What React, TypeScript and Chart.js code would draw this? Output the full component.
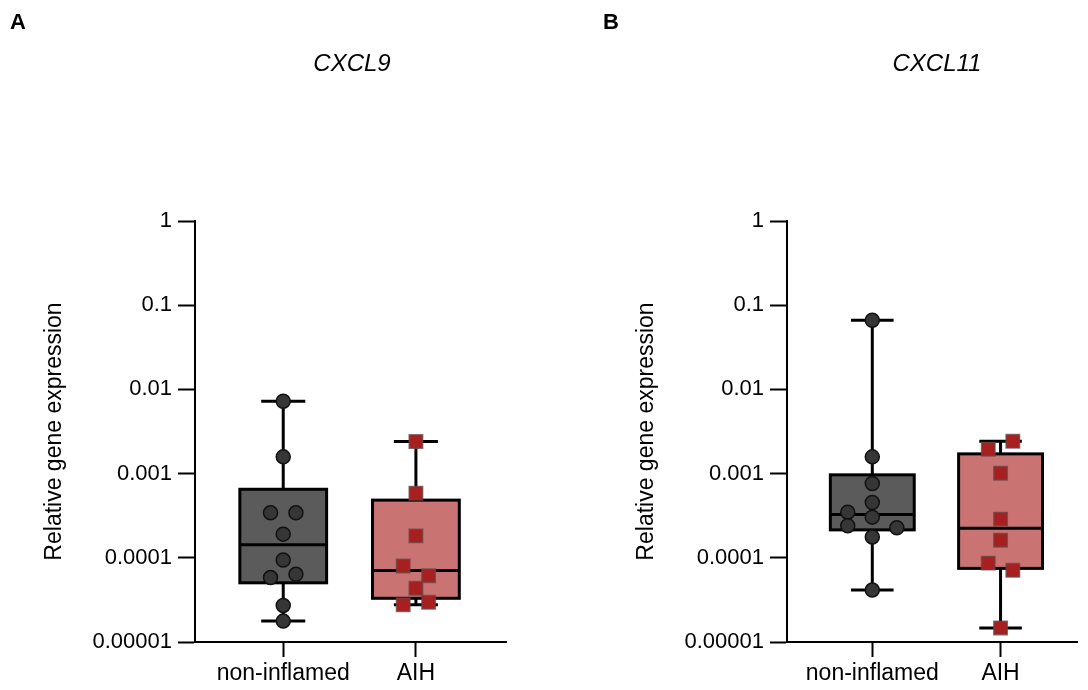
import React, { useEffect, useRef } from 'react';
import { Chart, registerables } from 'chart.js';

Chart.register(...registerables);

// ---- data ----
const groups = ['non-inflamed', 'AIH'];
const yTickValues = [0.00001, 0.0001, 0.001, 0.01, 0.1, 1];
const yTickLabels = ['0.00001', '0.0001', '0.001', '0.01', '0.1', '1'];

const cxcl9NonInflamed = [0.00723, 0.00158, 0.000342, 0.000342, 0.000191, 0.000094, 0.0000582, 0.0000636, 0.0000272, 0.0000177];
const cxcl9AIH = [0.0024, 0.000585, 0.000182, 0.0000798, 0.0000613, 0.0000434, 0.0000296, 0.0000277];
const cxcl11NonInflamed = [0.0661, 0.00158, 0.000762, 0.000454, 0.000348, 0.000304, 0.00024, 0.000227, 0.000177, 0.0000414];
const cxcl11AIH = [0.00242, 0.00195, 0.00101, 0.000288, 0.000162, 0.0000865, 0.000071, 0.0000147];

// horizontal swarm slot of each point (in half-marker steps, 0 = centre)
const cxcl9NonInflamedSlots = [0, 0, -1, 1, 0, 0, -1, 1, 0, 0];
const cxcl9AIHSlots = [0, 0, 0, -1, 1, 0, 1, -1];
const cxcl11NonInflamedSlots = [0, 0, 0, 0, -2, 0, -2, 2, 0, 0];
const cxcl11AIHSlots = [1, -1, 0, 0, 0, -1, 1, 0];

// ---- styling ----
const FONT = "'Liberation Sans', Arial, Helvetica, sans-serif";
const SLOT = 0.0957;
const BOX_HALF = 0.327;
const CAP_HALF = 0.166;
const X_MIN = -0.665;

type Group = {
  values: number[];
  slots: number[];
  boxFill: string;
  pointFill: string;
  pointBorder: string;
  pointStyle: 'circle' | 'rect';
  radius: number;
};

function quantile(sorted: number[], p: number) {
  const n = sorted.length;
  const pos = (n + 1) * p;
  const lo = Math.floor(pos);
  const frac = pos - lo;
  if (lo < 1) return sorted[0];
  if (lo >= n) return sorted[n - 1];
  return sorted[lo - 1] + frac * (sorted[lo] - sorted[lo - 1]);
}

function boxStats(values: number[]) {
  const s = [...values].sort((a, b) => a - b);
  return {
    min: s[0],
    q1: quantile(s, 0.25),
    median: quantile(s, 0.5),
    q3: quantile(s, 0.75),
    max: s[s.length - 1],
  };
}

function makeBoxPlugin(list: Group[]) {
  return {
    id: 'boxWhisker',
    beforeDatasetsDraw(chart: any) {
      const { ctx, scales } = chart;
      const x = scales.x;
      const y = scales.y;
      ctx.save();
      list.forEach((g, i) => {
        const st = boxStats(g.values);
        const cx = x.getPixelForValue(i);
        const bl = x.getPixelForValue(i - BOX_HALF);
        const br = x.getPixelForValue(i + BOX_HALF);
        const cl = x.getPixelForValue(i - CAP_HALF);
        const cr = x.getPixelForValue(i + CAP_HALF);
        const yMin = y.getPixelForValue(st.min);
        const yMax = y.getPixelForValue(st.max);
        const yQ1 = y.getPixelForValue(st.q1);
        const yQ3 = y.getPixelForValue(st.q3);
        const yMed = y.getPixelForValue(st.median);
        ctx.strokeStyle = '#000';
        ctx.lineWidth = 3;
        // whiskers and caps
        ctx.beginPath();
        ctx.moveTo(cx, yQ3);
        ctx.lineTo(cx, yMax);
        ctx.moveTo(cl, yMax);
        ctx.lineTo(cr, yMax);
        ctx.moveTo(cx, yQ1);
        ctx.lineTo(cx, yMin);
        ctx.moveTo(cl, yMin);
        ctx.lineTo(cr, yMin);
        ctx.stroke();
        // box
        ctx.fillStyle = g.boxFill;
        ctx.fillRect(bl, yQ3, br - bl, yQ1 - yQ3);
        ctx.strokeRect(bl, yQ3, br - bl, yQ1 - yQ3);
        // median
        ctx.beginPath();
        ctx.moveTo(bl, yMed);
        ctx.lineTo(br, yMed);
        ctx.stroke();
      });
      ctx.restore();
    },
  };
}

function Panel({ list, xMax, padRight, width }: { list: Group[]; xMax: number; padRight: number; width: number }) {
  const ref = useRef<HTMLCanvasElement>(null);
  useEffect(() => {
    if (!ref.current) return;
    const chart = new Chart(ref.current, {
      type: 'scatter',
      data: {
        datasets: list.map((g, i) => ({
          data: g.values.map((v, k) => ({ x: i + g.slots[k] * SLOT, y: v })),
          pointStyle: g.pointStyle,
          pointRadius: g.radius,
          pointHoverRadius: g.radius,
          backgroundColor: g.pointFill,
          borderColor: g.pointBorder,
          borderWidth: 1.5,
        })),
      },
      options: {
        animation: false,
        responsive: false,
        maintainAspectRatio: false,
        layout: { padding: { left: 41, top: 221, right: padRight, bottom: 0 } },
        plugins: { legend: { display: false }, tooltip: { enabled: false } },
        scales: {
          x: {
            type: 'linear',
            min: X_MIN,
            max: xMax,
            afterBuildTicks: (s: any) => {
              s.ticks = groups.map((_, i) => ({ value: i }));
            },
            afterFit: (s: any) => {
              s.height = 48;
            },
            ticks: {
              callback: (v: any) => groups[Math.round(Number(v))],
              font: { family: FONT, size: 23 },
              color: '#000',
              padding: 3,
              autoSkip: false,
              maxRotation: 0,
            },
            grid: { drawOnChartArea: false, drawTicks: true, tickLength: 15, tickWidth: 2, tickColor: '#000' },
            border: { display: true, color: '#000', width: 2 },
          },
          y: {
            type: 'logarithmic',
            min: yTickValues[0],
            max: yTickValues[yTickValues.length - 1],
            afterBuildTicks: (s: any) => {
              s.ticks = yTickValues.map((v) => ({ value: v }));
            },
            afterFit: (s: any) => {
              s.width = 154;
            },
            ticks: {
              callback: (_v: any, idx: number) => yTickLabels[idx],
              font: { family: FONT, size: 22 },
              color: '#000',
              padding: 6,
              autoSkip: false,
            },
            grid: { drawOnChartArea: false, drawTicks: true, tickLength: 17, tickWidth: 2, tickColor: '#000' },
            border: { display: true, color: '#000', width: 2 },
            title: {
              display: true,
              text: 'Relative gene expression',
              font: { family: FONT, size: 23 },
              color: '#000',
              padding: 0,
            },
          },
        },
      },
      plugins: [makeBoxPlugin(list)],
    } as any);
    return () => chart.destroy();
  }, []);
  return <canvas ref={ref} width={width} height={690} style={{ width, height: 690, display: 'block' }} />;
}

const greyStyle = {
  boxFill: '#5b5b5b',
  pointFill: '#363636',
  pointBorder: '#111111',
  pointStyle: 'circle' as const,
  radius: 7,
};
const redStyle = {
  boxFill: '#ca7373',
  pointFill: '#a81f1f',
  pointBorder: 'rgba(105,70,70,0.75)',
  pointStyle: 'rect' as const,
  radius: 9.5,
};

const cxcl9Groups: Group[] = [
  { values: cxcl9NonInflamed, slots: cxcl9NonInflamedSlots, ...greyStyle },
  { values: cxcl9AIH, slots: cxcl9AIHSlots, ...redStyle },
];
const cxcl11Groups: Group[] = [
  { values: cxcl11NonInflamed, slots: cxcl11NonInflamedSlots, ...greyStyle },
  { values: cxcl11AIH, slots: cxcl11AIHSlots, ...redStyle },
];

const letterStyle: React.CSSProperties = {
  position: 'absolute',
  top: 11,
  fontFamily: FONT,
  fontWeight: 'bold',
  fontSize: 22,
  lineHeight: '22px',
  color: '#000',
};
const geneStyle: React.CSSProperties = {
  position: 'absolute',
  top: 51,
  width: 200,
  textAlign: 'center',
  fontFamily: FONT,
  fontStyle: 'italic',
  fontSize: 24,
  lineHeight: '24px',
  color: '#000',
};

export default function App() {
  return (
    <div style={{ position: 'absolute', left: 0, top: 0, width: 1088, height: 690, background: '#fff', overflow: 'hidden' }}>
      <div style={{ position: 'absolute', left: 0, top: 0 }}>
        <Panel list={cxcl9Groups} xMax={1.679} padRight={38} width={544} />
      </div>
      <div style={{ position: 'absolute', left: 592, top: 0 }}>
        <Panel list={cxcl11Groups} xMax={1.596} padRight={1} width={496} />
      </div>
      <div style={{ ...letterStyle, left: 10 }}>A</div>
      <div style={{ ...letterStyle, left: 603 }}>B</div>
      <div style={{ ...geneStyle, left: 252 }}>CXCL9</div>
      <div style={{ ...geneStyle, left: 837 }}>CXCL11</div>
    </div>
  );
}
